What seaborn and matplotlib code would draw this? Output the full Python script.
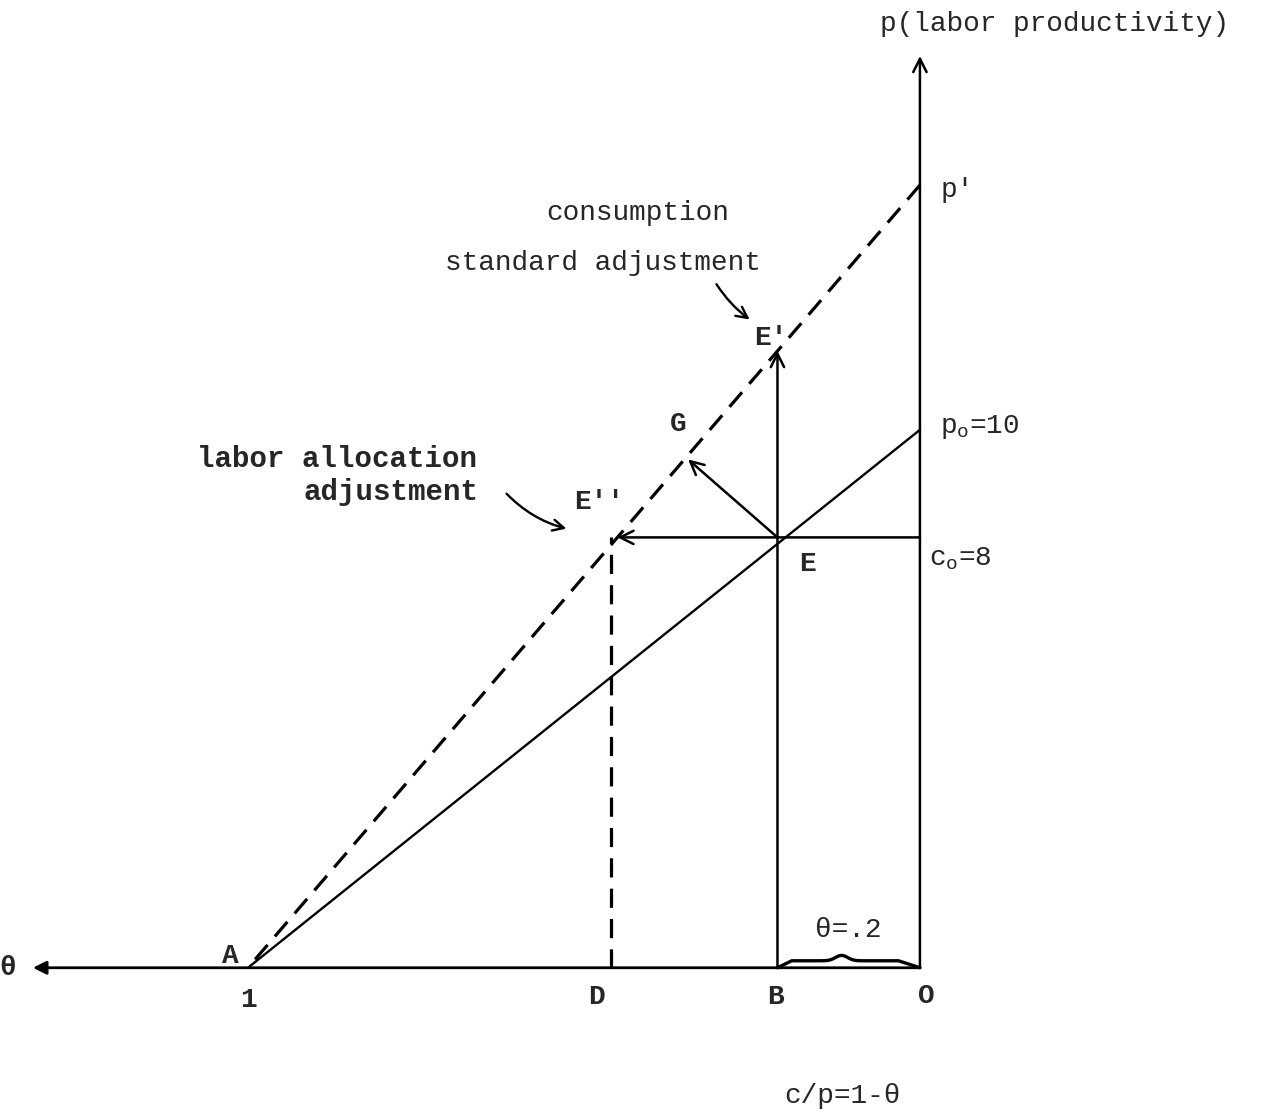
import matplotlib
matplotlib.use("Agg")
import matplotlib.pyplot as plt
import seaborn as sns
import numpy as np
import pandas as pd

# --- data (theta runs leftwards from O=0 to A=1) ---
theta_line = [1.0, 0.0]          # A, O
p_initial = [0.0, 10.0]          # solid line, ends at p_o = 10
p_shifted = [0.0, 14.55]         # dashed line, ends at p'
theta_B = 0.212                  # theta = .2 (as drawn)
c_o = 8.0                        # consumption standard
theta_D = 0.46                   # foot of the dashed drop from E''
G_point = (0.345, 9.45)
axis_theta_max = 1.32
axis_p_max = 16.95

sns.set_theme(style="white")
plt.rcParams["font.family"] = ["Liberation Mono", "DejaVu Sans Mono"]
plt.rcParams["mathtext.fontset"] = "custom"
plt.rcParams["mathtext.rm"] = "Liberation Mono"
plt.rcParams["mathtext.it"] = "Liberation Mono"

fig = plt.figure(figsize=(12.66, 11.2), dpi=100)
ax = fig.add_axes([0, 0, 1, 1])
ax.set_xlim(1.369, -0.515)
ax.set_ylim(-2.83, 17.99)
ax.axis("off")

lw = 2.0
dash = (0, (6, 3.5))
df = pd.DataFrame({"theta": theta_line, "p0": p_initial, "p1": p_shifted})
sns.lineplot(data=df, x="theta", y="p0", color="black", lw=1.7, ax=ax)
sns.lineplot(data=df, x="theta", y="p1", color="black", lw=2.3, ax=ax, linestyle=dash)

arrow = dict(arrowstyle="-|>", color="black", lw=lw, mutation_scale=20, shrinkA=0, shrinkB=0)
open_arrow = dict(arrowstyle="->", color="black", lw=1.8, mutation_scale=24, shrinkA=0, shrinkB=0)

# axes
ax.annotate("", xy=(axis_theta_max, 0), xytext=(0, 0), arrowprops=arrow)
ax.annotate("", xy=(0, axis_p_max), xytext=(0, 0), arrowprops=open_arrow)

# E point and adjustments
p_E_shift = p_shifted[1] * (1 - theta_B)
theta_E2 = 1 - c_o / p_shifted[1]
ax.annotate("", xy=(theta_B, p_E_shift), xytext=(theta_B, 0), arrowprops=open_arrow)
ax.annotate("", xy=(theta_E2, c_o), xytext=(0, c_o), arrowprops=open_arrow)
ax.annotate("", xy=G_point, xytext=(theta_B, c_o), arrowprops=open_arrow)
ax.plot([theta_D, theta_D], [0, c_o], color="black", lw=2.3, linestyle=dash)

# brace for theta = .2
bx = np.linspace(theta_B, 0, 80)
t = (bx - theta_B) / (0 - theta_B)
by = 0.13 * np.clip(t / 0.1, 0, 1) * (1 - np.clip((t - 0.85) / 0.15, 0, 1)) \
    + 0.1 * np.exp(-((t - 0.45) / 0.06) ** 2)
ax.plot(bx, by, color="black", lw=2.4)

fs = 20
ax.text(-0.2, 17.55, "p(labor productivity)", fontsize=fs, ha="center", va="center")
ax.text(-0.03, 14.45, "p'", fontsize=fs, ha="left", va="center")
ax.text(-0.03, 10.05, r"p$_\mathrm{o}$=10", fontsize=fs, ha="left", va="center")
ax.text(-0.013, 7.6, r"c$_\mathrm{o}$=8", fontsize=fs, ha="left", va="center")
ax.text(0.42, 14.03, "consumption", fontsize=fs, ha="center", va="center")
ax.text(0.472, 13.1, "standard adjustment", fontsize=fs, ha="center", va="center")
ax.annotate("", xy=(0.25, 12.02), xytext=(0.305, 12.75),
            arrowprops=dict(arrowstyle="->", color="black", lw=1.7, mutation_scale=20,
                            connectionstyle="arc3,rad=0.1"))
ax.text(0.222, 11.7, "E'", fontsize=fs, ha="center", va="center", fontweight="bold")
ax.text(0.36, 10.1, "G", fontsize=fs, ha="center", va="center", fontweight="bold")
ax.text(1.076, 9.45, "labor allocation", fontsize=21, ha="left", va="center", fontweight="bold")
ax.text(0.918, 8.85, "adjustment", fontsize=21, ha="left", va="center", fontweight="bold")
ax.annotate("", xy=(0.522, 8.15), xytext=(0.618, 8.85),
            arrowprops=dict(arrowstyle="->", color="black", lw=1.7, mutation_scale=20,
                            connectionstyle="arc3,rad=0.15"))
ax.text(0.478, 8.65, "E''", fontsize=fs, ha="center", va="center", fontweight="bold")
ax.text(0.168, 7.5, "E", fontsize=fs, ha="center", va="center", fontweight="bold")
ax.text(1.027, 0.22, "A", fontsize=fs, ha="center", va="center", fontweight="bold")
ax.text(1.0, -0.6, "1", fontsize=fs, ha="center", va="center", fontweight="bold")
ax.text(0.481, -0.55, "D", fontsize=fs, ha="center", va="center", fontweight="bold")
ax.text(0.215, -0.55, "B", fontsize=fs, ha="center", va="center", fontweight="bold")
ax.text(-0.01, -0.53, "O", fontsize=fs, ha="center", va="center", fontweight="bold")
ax.text(0.107, 0.71, "θ=.2", fontsize=fs, ha="center", va="center")
ax.text(0.115, -2.38, "c/p=1-θ", fontsize=fs, ha="center", va="center")
ax.text(1.345, 0.0, "θ", fontsize=fs, ha="right", va="center", fontweight="bold")

fig.savefig("out.png", dpi=100)
